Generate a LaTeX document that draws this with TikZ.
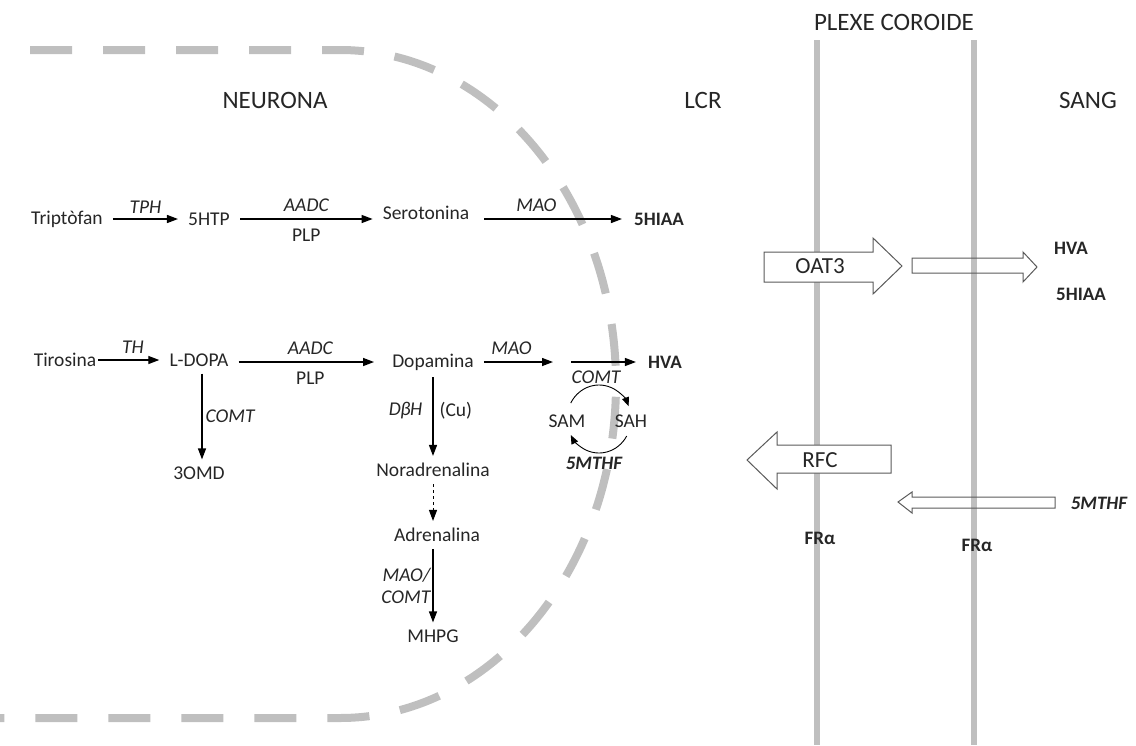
\documentclass[tikz,border=0pt]{standalone}
\usepackage{fontspec}
\setmainfont{Carlito}
\usetikzlibrary{arrows.meta,positioning}
\definecolor{membraneGray}{HTML}{BFBFBF}
\definecolor{textDark}{HTML}{262626}
\definecolor{blockBorder}{HTML}{5A5A5A}
\begin{document}
\begin{tikzpicture}[
  x=1pt,y=-1pt,
  every node/.style={font=\fontsize{19.5}{22}\selectfont,text=textDark,inner sep=0pt},
  mol/.style={inner xsep=10pt,inner ysep=7pt},
  enz/.style={font=\fontsize{19.5}{22}\selectfont\itshape},
  prod/.style={font=\fontsize{19}{22}\selectfont\bfseries,text=black!85,inner xsep=12pt,inner ysep=6pt},
  hdr/.style={font=\fontsize{25}{28}\selectfont},
  arr/.style={-{Triangle[length=11pt,width=8pt]},line width=1.3pt,black},
  carr/.style={-{Triangle[length=9pt,width=7pt]},line width=0.9pt,black},
  memb/.style={line width=6pt,membraneGray},
  blk/.style={draw=blockBorder,line width=1pt,line join=miter},
  blklbl/.style={font=\fontsize{23}{26}\selectfont}
]
  \useasboundingbox (0,0) rectangle (1136,745);

  % --- neuron border and choroid plexus ---
  \draw[membraneGray,line width=8pt,dash pattern=on 42pt off 31pt]
    (30,50) -- (340,50) arc[start angle=90,end angle=-90,x radius=276pt,y radius=334pt] -- (0,718);
  \draw[memb] (817,40) -- (817,745);
  \draw[memb] (974,40) -- (974,745);

  % headers
  \node[hdr] (plexe) at (894,22) {PLEXE COROIDE};
  \node[hdr] (neurona) at (275,100) {NEURONA};
  \node[hdr] (lcr) at (703,100) {LCR};
  \node[hdr] (sang) at (1088,100) {SANG};

  % --- serotonin pathway ---
  \node[mol] (trp) at (67,219) {Triptòfan};
  \node[mol] (htp) at (209,219) {5HTP};
  \node[mol] (ser) at (426,213) {Serotonina};
  \node[prod] (hiaa) at (659,219) {5HIAA};

  \draw[arr] (trp) -- node[enz,above=5pt] (tph) {TPH} (htp);
  \draw[arr] (htp) -- node[enz,above=7pt] (aadc1) {AADC} node[below=9pt] (plp1) {PLP} (ser.west |- htp);
  \draw[arr,shorten <=5pt] (ser.east |- hiaa) -- node[enz,above=7pt,pos=0.4] (mao1) {MAO} (hiaa);

  % --- catecholamine pathway ---
  \node[mol] (tyr) at (65,360) {Tirosina};
  \node[mol] (ldopa) at (199,360) {L-DOPA};
  \node[mol] (dopa) at (433,362) {Dopamina};
  \node[prod] (hva) at (665,362) {HVA};
  \coordinate (maoEnd) at (553,362);
  \coordinate (comtStart) at (571,362);

  \draw[arr,shorten <=-8pt] (tyr) -- node[enz,above=6pt] (th) {TH} (ldopa);
  \draw[arr,shorten >=8pt] (ldopa.east |- dopa) -- node[enz,above=7pt] (aadc2) {AADC} node[below=9pt] (plp2) {PLP} (dopa);
  \draw[arr] (dopa) -- node[enz,above=7pt,pos=0.4] (mao2) {MAO} (maoEnd);
  \draw[arr] (comtStart) -- (hva);

  \node[mol] (omd) at (199,473) {3OMD};
  \draw[arr] (ldopa.south -| 202,0) -- node[enz,right=3pt] (comt1) {COMT} (omd.north -| 202,0);

  \node[mol] (nor) at (433,470) {Noradrenalina};
  \node[mol] (adr) at (437,535) {Adrenalina};
  \node[mol] (mhpg) at (433,636) {MHPG};
  \draw[arr] (dopa) -- node[enz,left=10pt,pos=0.42] (dbh) {D\kern-0.5pt β\kern-0.5pt H} node[right=6pt,pos=0.42] (cu) {(Cu)} (nor);
  \draw[arr,dashed,line width=1pt] (nor) -- (nor |- adr.north);
  \draw[arr] (adr.south -| mhpg) -- node[enz,left=2pt,align=right] (maocomt) {MAO/\\COMT} (mhpg);

  % --- methylation cycle ---
  \node (sam) at (567,421) {SAM};
  \node (sah) at (631,421) {SAH};
  \coordinate (cyc) at (599,419);
  \node[enz] (comt2) at (596,377) {COMT};
  \draw[carr] ([shift={(152:32pt and 34pt)}]cyc) arc[start angle=152,end angle=22,x radius=32pt,y radius=34pt];
  \draw[carr] ([shift={(-30:32pt and 34pt)}]cyc) arc[start angle=-30,end angle=-152,x radius=32pt,y radius=34pt];
  \node[enz,font=\fontsize{19}{22}\selectfont\bfseries\itshape,text=black!85] (mthf1) at (594,463) {5MTHF};

  % --- transporters ---
  \draw[blk,fill=white] (764,252) -- (873,252) -- (873,238) -- (902,266) -- (873,294) -- (873,282) -- (764,282) -- cycle;
  \node[blklbl] (oat) at (820,266) {OAT3};
  \draw[blk] (912,258) -- (1023,258) -- (1023,252) -- (1037,267) -- (1023,282) -- (1023,273) -- (912,273) -- cycle;
  \node[prod,inner sep=0pt] (hva2) at (1071,248) {HVA};
  \node[prod,inner sep=0pt] (hiaa2) at (1081,294) {5HIAA};

  \draw[blk,fill=white] (747,460) -- (777,432) -- (777,445) -- (891,445) -- (891,473) -- (777,473) -- (777,489) -- cycle;
  \node[blklbl] (rfc) at (820,460) {RFC};
  \draw[blk] (898,502) -- (912,492) -- (912,497) -- (1055,497) -- (1055,508) -- (912,508) -- (912,513) -- cycle;
  \node[prod,inner sep=0pt,font=\fontsize{19}{22}\selectfont\bfseries\itshape] (mthf2) at (1099,503) {5MTHF};

  \node[prod,inner sep=0pt] (fra1) at (820,538) {FRα};
  \node[prod,inner sep=0pt] (fra2) at (977,545) {FRα};
\end{tikzpicture}
\end{document}
